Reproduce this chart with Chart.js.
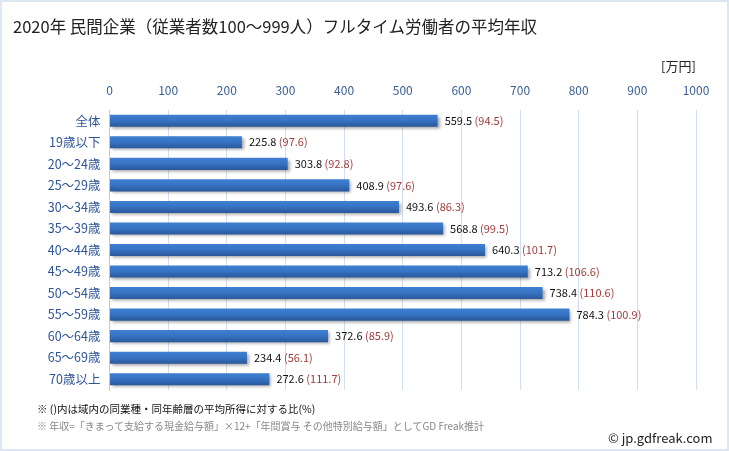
<!DOCTYPE html>
<html><head><meta charset="utf-8">
<script src="https://cdn.jsdelivr.net/npm/chart.js@4"></script>
<style>
html,body{margin:0;padding:0;background:#fff;}
#wrap{position:relative;width:729px;height:451px;box-sizing:border-box;border:2px solid #dce7f3;background:#fff;overflow:hidden;font-family:"Noto Sans CJK JP","Noto Sans",sans-serif;}
canvas{position:absolute;left:-2px;top:-2px;}
.t{position:absolute;white-space:nowrap;}
</style></head><body>
<div id="wrap">
<canvas id="c" width="729" height="451"></canvas>
<div class="t" style="left:11px;top:12px;font-size:16.5px;color:#222;">2020年 民間企業（従業者数100～999人）フルタイム労働者の平均年収</div>
<div class="t" style="left:659px;top:54px;font-size:13px;color:#222;">[万円]</div>
<div class="t" style="left:35px;top:399px;font-size:10.5px;color:#111;">※ ()内は域内の同業種・同年齢層の平均所得に対する比(%)</div>
<div class="t" style="left:35px;top:416px;font-size:10px;color:#888;">※ 年収=「きまって支給する現金給与額」×12+「年間賞与 その他特別給与額」としてGD Freak推計</div>
<div class="t" style="left:606px;top:426px;font-size:13px;color:#222;">© jp.gdfreak.com</div>
</div>
<script>
const categories = ["全体","19歳以下","20～24歳","25～29歳","30～34歳","35～39歳","40～44歳","45～49歳","50～54歳","55～59歳","60～64歳","65～69歳","70歳以上"];
const incomes = [559.5,225.8,303.8,408.9,493.6,568.8,640.3,713.2,738.4,784.3,372.6,234.4,272.6];
const ratios = ["94.5","97.6","92.8","97.6","86.3","99.5","101.7","106.6","110.6","100.9","85.9","56.1","111.7"];
const xTicks = [0,100,200,300,400,500,600,700,800,900,1000];

const shadowPlugin = {
  id:'shadow',
  beforeDatasetsDraw(chart){
    const ctx=chart.ctx; ctx.save();
    ctx.shadowColor='rgba(0,0,0,0.35)'; ctx.shadowBlur=3; ctx.shadowOffsetX=2; ctx.shadowOffsetY=2;
  },
  afterDatasetsDraw(chart){
    const ctx=chart.ctx; ctx.restore();
    const meta=chart.getDatasetMeta(0);
    ctx.save();
    ctx.font='11px "Noto Sans CJK JP", "Noto Sans", sans-serif';
    ctx.textBaseline='middle';
    meta.data.forEach((bar,i)=>{
      const v=incomes[i].toFixed(1);
      let x=bar.x+7, y=bar.y;
      ctx.fillStyle='#111'; ctx.textAlign='left';
      ctx.fillText(v,x,y);
      const w=ctx.measureText(v+' ').width;
      ctx.fillStyle='#a03c3c';
      ctx.fillText('('+ratios[i]+')',x+w,y);
    });
    ctx.restore();
  }
};

new Chart(document.getElementById('c'),{
  type:'bar',
  data:{labels:categories,datasets:[{
    data:incomes,
    backgroundColor(ctx){
      const chart=ctx.chart; const ys=chart.scales && chart.scales.y;
      if(!chart.chartArea||!ys) return '#3570bb';
      const y=ys.getPixelForValue(ctx.dataIndex);
      const step=chart.chartArea.height/categories.length;
      const h=step*0.56;
      if(!Number.isFinite(y)||!Number.isFinite(h)) return '#3570bb';
      const g=chart.ctx.createLinearGradient(0,y-h/2,0,y+h/2);
      g.addColorStop(0,'#3f80d2'); g.addColorStop(0.5,'#3672c2'); g.addColorStop(1,'#2a589b');
      return g;
    },
    borderWidth:0,
    barPercentage:0.56, categoryPercentage:1.0
  }]},
  options:{
    indexAxis:'y', responsive:false, animation:false,
    layout:{padding:{left:0,right:33,top:0,bottom:61}},
    plugins:{legend:{display:false},tooltip:{enabled:false},title:{display:false}},
    scales:{
      x:{position:'top',min:0,max:1000,
        afterFit(s){s.height=110;},
        afterBuildTicks(s){s.ticks=xTicks.map(v=>({value:v}));},
        grid:{color:'#d3dfed',drawTicks:false,lineWidth:1},
        border:{display:false},
        ticks:{color:'#3a5f94',font:{size:12,family:'"Noto Sans CJK JP", "Noto Sans", sans-serif'},padding:12,autoSkip:false,maxRotation:0,
          callback(v){return String(v);}}
      },
      y:{
        afterFit(s){s.width=109.5;},
        grid:{display:false,drawTicks:false},
        border:{display:true,color:'#c8c8c8'},
        ticks:{color:'#2f5597',font:{size:12.5,family:'"Noto Sans CJK JP", "Noto Sans", sans-serif'},padding:9}
      }
    }
  },
  plugins:[shadowPlugin]
});
</script>
</body></html>
